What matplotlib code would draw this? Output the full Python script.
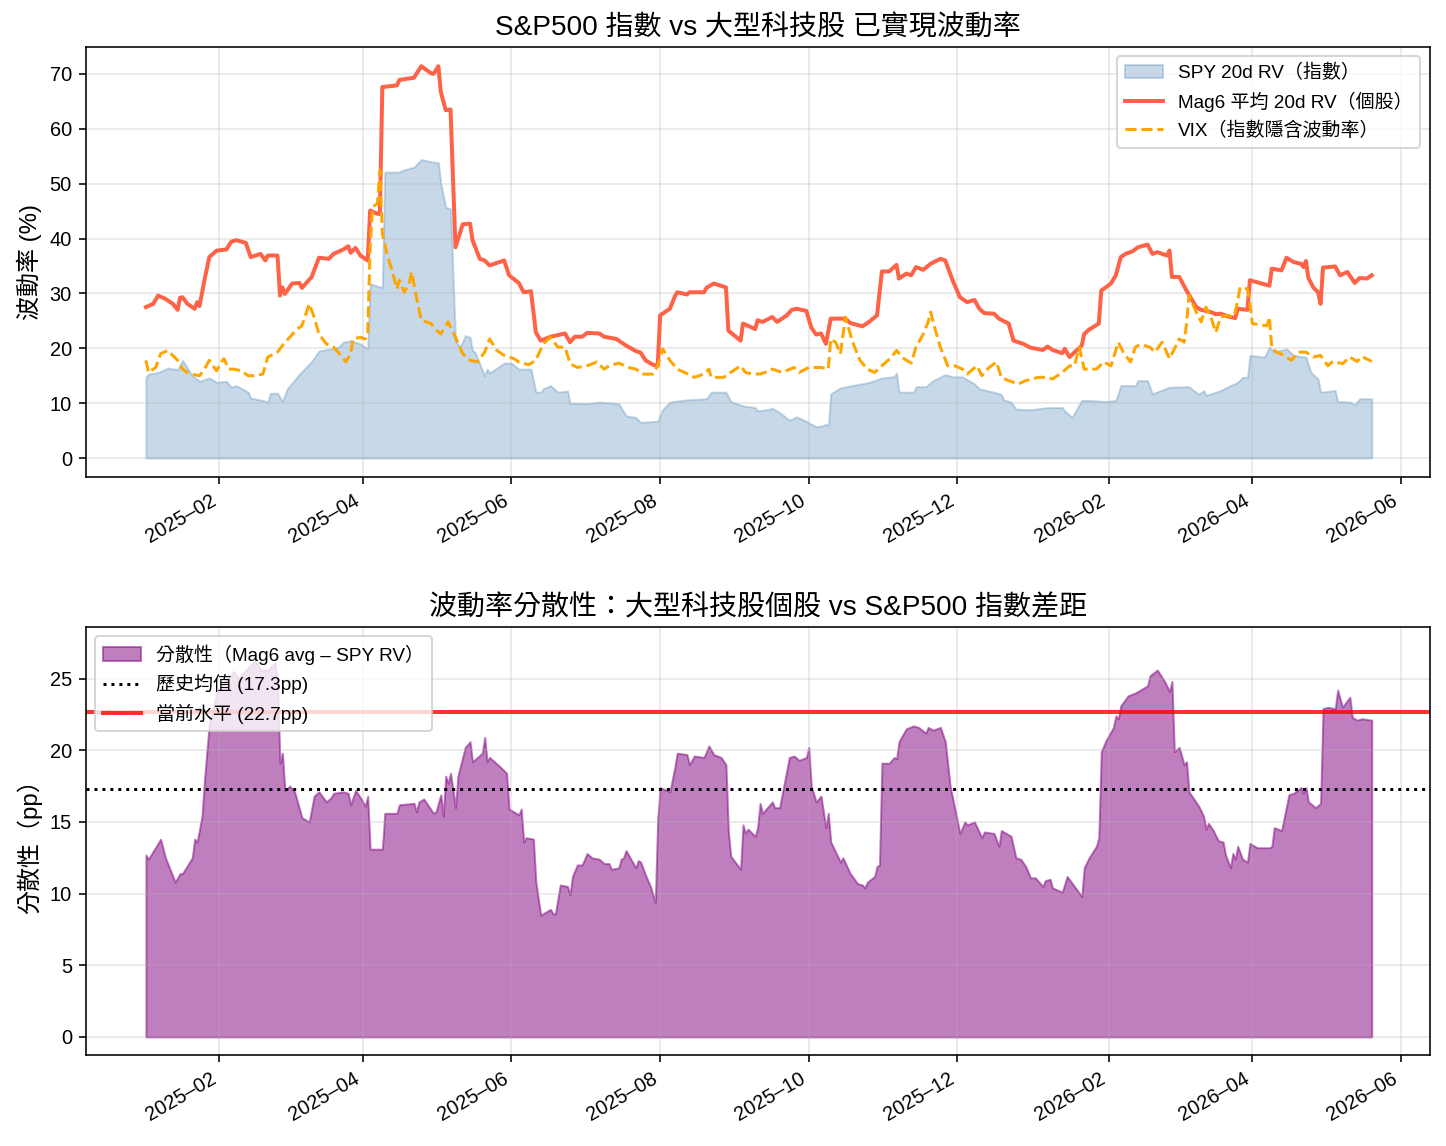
import matplotlib
matplotlib.use("Agg")
import matplotlib.pyplot as plt
import matplotlib.dates as mdates
import pandas as pd

plt.rcParams['font.family'] = ['Liberation Sans', 'Noto Sans CJK TC', 'DejaVu Sans']
plt.rcParams['axes.unicode_minus'] = False

# ---------------- data ----------------
mag6_dates = ["2025-01-02","2025-01-05","2025-01-07","2025-01-10","2025-01-13","2025-01-15","2025-01-16","2025-01-17",
    "2025-01-19","2025-01-22","2025-01-23","2025-01-24","2025-01-26","2025-01-28","2025-01-31","2025-02-04","2025-02-06",
    "2025-02-08","2025-02-12","2025-02-14","2025-02-18","2025-02-20","2025-02-21","2025-02-25","2025-02-26","2025-02-27",
    "2025-02-28","2025-03-03","2025-03-06","2025-03-07","2025-03-11","2025-03-14","2025-03-18","2025-03-20","2025-03-24",
    "2025-03-26","2025-03-27","2025-03-29","2025-03-31","2025-04-03","2025-04-04","2025-04-07","2025-04-08","2025-04-09",
    "2025-04-15","2025-04-16","2025-04-22","2025-04-24","2025-04-25","2025-04-29","2025-04-30","2025-05-02","2025-05-03",
    "2025-05-05","2025-05-07","2025-05-09","2025-05-12","2025-05-15","2025-05-16","2025-05-19","2025-05-21","2025-05-23",
    "2025-05-29","2025-05-31","2025-06-04","2025-06-06","2025-06-09","2025-06-11","2025-06-13","2025-06-17","2025-06-23",
    "2025-06-25","2025-06-27","2025-06-30","2025-07-02","2025-07-07","2025-07-09","2025-07-14","2025-07-18","2025-07-22",
    "2025-07-24","2025-07-26","2025-07-29","2025-07-31","2025-08-01","2025-08-05","2025-08-07","2025-08-08","2025-08-12",
    "2025-08-13","2025-08-19","2025-08-20","2025-08-23","2025-08-28","2025-08-29","2025-09-03","2025-09-04","2025-09-06",
    "2025-09-09","2025-09-10","2025-09-12","2025-09-16","2025-09-18","2025-09-22","2025-09-24","2025-09-26","2025-09-30",
    "2025-10-02","2025-10-04","2025-10-06","2025-10-08","2025-10-10","2025-10-16","2025-10-18","2025-10-23","2025-10-26",
    "2025-10-29","2025-10-31","2025-11-03","2025-11-06","2025-11-07","2025-11-10","2025-11-12","2025-11-14","2025-11-17",
    "2025-11-20","2025-11-24","2025-11-26","2025-11-29","2025-12-02","2025-12-05","2025-12-08","2025-12-10","2025-12-12",
    "2025-12-16","2025-12-18","2025-12-22","2025-12-24","2025-12-28","2025-12-31","2026-01-05","2026-01-07","2026-01-09",
    "2026-01-13","2026-01-14","2026-01-16","2026-01-21","2026-01-22","2026-01-24","2026-01-28","2026-01-29","2026-02-02",
    "2026-02-04","2026-02-06","2026-02-08","2026-02-11","2026-02-13","2026-02-17","2026-02-19","2026-02-21","2026-02-25",
    "2026-02-26","2026-02-27","2026-03-02","2026-03-05","2026-03-09","2026-03-11","2026-03-15","2026-03-17","2026-03-19",
    "2026-03-22","2026-03-25","2026-03-26","2026-03-30","2026-03-31","2026-04-08","2026-04-09","2026-04-13","2026-04-15",
    "2026-04-18","2026-04-21","2026-04-22","2026-04-23","2026-04-24","2026-04-26","2026-04-28","2026-04-29","2026-04-30",
    "2026-05-05","2026-05-07","2026-05-10","2026-05-13","2026-05-15","2026-05-18","2026-05-20"]
mag6_vals = [27.5,28.1,29.6,29.0,28.1,27.0,29.2,29.3,
    28.1,27.2,28.4,27.7,32.4,36.6,37.8,38.0,39.4,
    39.7,39.2,36.6,37.2,36.0,36.9,36.9,29.6,31.1,
    29.9,31.8,31.9,31.0,33.0,36.5,36.3,37.2,38.0,
    38.6,37.4,38.3,36.9,36.0,45.1,44.5,44.5,67.6,
    67.9,68.9,69.3,70.7,71.4,70.1,70.0,71.4,66.7,
    63.4,63.5,38.4,42.6,42.7,39.7,36.3,36.0,35.1,
    36.0,33.3,31.9,30.2,30.4,22.9,21.4,22.1,22.7,
    21.1,22.1,22.1,22.8,22.7,22.1,21.7,20.5,19.5,
    19.2,17.8,17.0,16.8,26.0,27.2,29.4,30.2,29.8,
    30.2,30.2,31.0,31.8,31.1,23.2,21.4,24.5,24.1,
    23.5,25.1,24.8,25.7,24.8,26.0,27.0,27.2,26.8,
    23.8,22.5,22.7,20.8,25.4,25.4,24.6,24.0,24.9,
    26.0,34.0,34.0,35.2,32.7,33.6,33.3,34.8,34.3,
    35.4,36.3,36.0,32.4,29.3,28.4,28.8,27.2,26.4,
    26.3,25.4,24.5,21.4,20.8,20.1,19.7,20.3,19.7,
    19.1,19.9,18.4,20.5,22.6,23.4,24.5,30.5,31.8,
    33.3,36.6,37.2,37.7,38.4,38.9,37.2,37.5,36.9,
    37.8,33.0,33.0,30.5,27.5,27.0,26.6,26.2,26.3,
    25.8,25.5,27.2,27.0,32.4,31.4,34.5,34.2,36.5,
    35.7,35.4,34.8,35.9,32.8,31.1,30.2,28.1,34.7,
    34.9,33.3,33.9,31.9,32.8,32.7,33.3]

spy_dates = ["2025-01-02","2025-01-03","2025-01-07","2025-01-11","2025-01-15","2025-01-17","2025-01-21","2025-01-24",
    "2025-01-28","2025-01-31","2025-02-04","2025-02-06","2025-02-08","2025-02-13","2025-02-14","2025-02-18","2025-02-21",
    "2025-02-22","2025-02-25","2025-02-27","2025-03-01","2025-03-06","2025-03-11","2025-03-14","2025-03-19","2025-03-22",
    "2025-03-24","2025-03-27","2025-03-31","2025-04-03","2025-04-04","2025-04-07","2025-04-09","2025-04-10","2025-04-16",
    "2025-04-17","2025-04-22","2025-04-25","2025-04-29","2025-05-02","2025-05-03","2025-05-05","2025-05-07","2025-05-09",
    "2025-05-11","2025-05-13","2025-05-15","2025-05-16","2025-05-17","2025-05-21","2025-05-22","2025-05-23","2025-05-29",
    "2025-06-01","2025-06-04","2025-06-09","2025-06-11","2025-06-13","2025-06-14","2025-06-17","2025-06-20","2025-06-24",
    "2025-06-25","2025-07-02","2025-07-07","2025-07-15","2025-07-18","2025-07-22","2025-07-24","2025-07-31","2025-08-02",
    "2025-08-05","2025-08-12","2025-08-20","2025-08-22","2025-08-28","2025-08-30","2025-09-04","2025-09-09","2025-09-10",
    "2025-09-15","2025-09-16","2025-09-19","2025-09-23","2025-09-26","2025-09-29","2025-10-04","2025-10-07","2025-10-08",
    "2025-10-09","2025-10-10","2025-10-14","2025-10-21","2025-10-26","2025-10-31","2025-11-05","2025-11-06","2025-11-07",
    "2025-11-13","2025-11-14","2025-11-18","2025-11-21","2025-11-26","2025-11-29","2025-12-03","2025-12-08","2025-12-10",
    "2025-12-16","2025-12-19","2025-12-20","2025-12-23","2025-12-25","2025-12-31","2026-01-07","2026-01-13","2026-01-14",
    "2026-01-17","2026-01-21","2026-01-24","2026-01-31","2026-02-04","2026-02-06","2026-02-12","2026-02-13","2026-02-17",
    "2026-02-19","2026-02-26","2026-03-06","2026-03-10","2026-03-12","2026-03-13","2026-03-19","2026-03-23","2026-03-26",
    "2026-03-28","2026-03-30","2026-03-31","2026-04-06","2026-04-08","2026-04-10","2026-04-15","2026-04-18","2026-04-23",
    "2026-04-25","2026-04-28","2026-04-29","2026-05-05","2026-05-06","2026-05-11","2026-05-13","2026-05-15","2026-05-20"]
spy_vals = [14.7,15.3,15.6,16.4,16.1,17.8,15.0,14.0,
    14.6,13.8,14.0,12.9,13.2,12.0,10.9,10.6,10.2,
    11.8,11.8,10.3,12.6,15.3,17.6,19.5,19.9,20.2,
    21.1,21.4,20.8,19.9,31.8,31.3,31.1,52.1,52.1,
    52.4,53.0,54.4,54.0,53.8,50.0,45.7,45.4,21.4,
    20.2,22.3,22.0,19.6,19.3,15.0,16.2,15.5,17.3,
    17.3,16.2,16.2,12.0,12.0,12.6,13.2,12.0,12.2,
    10.0,9.9,10.2,9.9,7.7,7.4,6.5,6.7,8.8,
    10.2,10.6,10.8,12.0,12.0,10.3,9.5,9.2,8.6,
    8.9,9.1,8.3,6.9,7.5,6.9,5.7,5.9,6.2,
    5.9,11.7,12.8,13.4,13.8,14.6,14.8,15.5,12.0,
    12.0,13.0,13.0,14.1,15.2,14.8,14.8,13.5,12.6,
    12.0,11.6,10.6,10.2,8.9,8.8,9.2,9.2,8.6,
    7.4,10.5,10.5,10.3,10.5,13.2,13.2,14.1,14.1,
    11.7,12.9,13.0,11.6,12.3,11.4,12.3,13.2,13.8,
    14.7,14.7,18.7,18.4,20.2,19.3,19.9,18.7,18.4,
    15.6,14.4,12.0,12.3,10.3,10.2,9.7,10.8,10.8]

vix_dates = ["2025-01-02","2025-01-03","2025-01-06","2025-01-08","2025-01-11","2025-01-13","2025-01-15","2025-01-17",
    "2025-01-20","2025-01-24","2025-01-26","2025-01-28","2025-01-30","2025-01-31","2025-02-02","2025-02-03","2025-02-05",
    "2025-02-07","2025-02-10","2025-02-13","2025-02-16","2025-02-19","2025-02-21","2025-02-25","2025-02-27","2025-03-02",
    "2025-03-05","2025-03-07","2025-03-08","2025-03-10","2025-03-12","2025-03-14","2025-03-17","2025-03-20","2025-03-23",
    "2025-03-25","2025-03-27","2025-03-28","2025-03-31","2025-04-02","2025-04-03","2025-04-04","2025-04-05","2025-04-07",
    "2025-04-08","2025-04-09","2025-04-10","2025-04-11","2025-04-13","2025-04-15","2025-04-16","2025-04-18","2025-04-20",
    "2025-04-21","2025-04-23","2025-04-25","2025-04-29","2025-04-30","2025-05-03","2025-05-06","2025-05-09","2025-05-12",
    "2025-05-15","2025-05-18","2025-05-21","2025-05-23","2025-05-26","2025-05-29","2025-06-02","2025-06-04","2025-06-08",
    "2025-06-11","2025-06-14","2025-06-17","2025-06-20","2025-06-23","2025-06-25","2025-06-28","2025-07-02","2025-07-06",
    "2025-07-09","2025-07-11","2025-07-15","2025-07-19","2025-07-22","2025-07-25","2025-07-29","2025-07-31","2025-08-02",
    "2025-08-05","2025-08-08","2025-08-11","2025-08-15","2025-08-19","2025-08-21","2025-08-22","2025-08-27","2025-08-31",
    "2025-09-03","2025-09-05","2025-09-08","2025-09-11","2025-09-15","2025-09-16","2025-09-20","2025-09-25","2025-09-27",
    "2025-10-01","2025-10-06","2025-10-09","2025-10-10","2025-10-12","2025-10-14","2025-10-16","2025-10-19","2025-10-22",
    "2025-10-25","2025-10-28","2025-11-01","2025-11-04","2025-11-06","2025-11-09","2025-11-12","2025-11-14","2025-11-17",
    "2025-11-19","2025-11-20","2025-11-22","2025-11-24","2025-11-27","2025-11-30","2025-12-03","2025-12-05","2025-12-09",
    "2025-12-11","2025-12-14","2025-12-17","2025-12-19","2025-12-22","2025-12-26","2025-12-29","2026-01-03","2026-01-07",
    "2026-01-09","2026-01-13","2026-01-16","2026-01-18","2026-01-20","2026-01-22","2026-01-27","2026-01-30","2026-02-02",
    "2026-02-05","2026-02-07","2026-02-10","2026-02-12","2026-02-14","2026-02-18","2026-02-20","2026-02-23","2026-02-26",
    "2026-02-28","2026-03-02","2026-03-04","2026-03-05","2026-03-06","2026-03-09","2026-03-11","2026-03-13","2026-03-15",
    "2026-03-17","2026-03-19","2026-03-22","2026-03-24","2026-03-25","2026-03-27","2026-03-30","2026-03-31","2026-04-01",
    "2026-04-07","2026-04-08","2026-04-09","2026-04-11","2026-04-14","2026-04-17","2026-04-20","2026-04-23","2026-04-26",
    "2026-04-29","2026-05-02","2026-05-04","2026-05-08","2026-05-11","2026-05-14","2026-05-16","2026-05-20"]
vix_vals = [17.8,15.6,16.5,19.0,19.6,18.7,17.8,16.2,
    15.3,15.0,16.2,17.8,16.5,15.9,17.5,18.1,16.2,
    16.2,15.9,15.0,15.0,15.3,18.4,19.3,20.5,22.0,
    23.5,24.1,25.4,28.1,25.7,22.6,20.8,20.2,18.7,
    17.5,19.0,21.7,22.0,21.7,22.6,38.4,45.7,46.4,
    52.4,40.9,39.1,36.9,34.2,30.8,32.4,30.2,31.8,
    33.9,29.3,25.1,24.5,23.8,22.6,24.8,22.0,19.0,
    17.8,17.5,19.3,21.7,19.6,18.7,18.1,17.5,17.0,
    17.8,20.8,22.0,20.2,20.2,17.2,16.5,16.8,17.5,
    16.2,16.8,17.3,16.5,16.2,15.3,15.3,16.8,19.9,
    17.8,16.2,15.6,14.7,15.3,16.2,14.7,14.7,15.9,
    16.8,15.6,15.3,15.3,15.9,16.2,15.6,16.5,15.6,
    16.5,16.5,16.2,21.7,21.1,19.0,25.7,21.1,17.8,
    16.2,15.6,17.2,18.4,19.6,18.1,17.3,20.2,22.6,
    24.8,26.6,23.2,20.2,16.8,16.8,16.2,15.3,16.8,
    15.0,16.5,17.5,14.7,14.1,13.5,14.1,14.7,14.7,
    14.4,15.6,16.8,16.8,20.2,16.2,16.2,17.5,16.8,
    21.1,19.3,17.5,20.2,20.7,20.2,19.3,21.1,18.1,
    19.9,21.7,21.1,24.5,29.6,26.6,24.8,27.5,25.7,
    22.9,25.7,26.0,25.7,26.6,31.1,30.8,28.1,24.5,
    24.1,25.7,19.9,19.3,18.7,17.8,19.3,19.3,18.4,
    18.7,16.8,17.6,17.2,18.4,17.6,18.5,17.6]

disp_dates = ["2025-01-02","2025-01-03","2025-01-08","2025-01-10","2025-01-14","2025-01-16","2025-01-17","2025-01-21",
    "2025-01-22","2025-01-23","2025-01-25","2025-01-26","2025-01-28","2025-01-31","2025-02-03","2025-02-07","2025-02-09",
    "2025-02-12","2025-02-16","2025-02-18","2025-02-21","2025-02-24","2025-02-25","2025-02-26","2025-02-27","2025-02-28",
    "2025-03-02","2025-03-04","2025-03-07","2025-03-10","2025-03-12","2025-03-14","2025-03-17","2025-03-19","2025-03-20",
    "2025-03-24","2025-03-26","2025-03-27","2025-03-29","2025-03-31","2025-04-02","2025-04-03","2025-04-04","2025-04-09",
    "2025-04-10","2025-04-15","2025-04-16","2025-04-22","2025-04-23","2025-04-24","2025-04-26","2025-04-30","2025-05-01",
    "2025-05-03","2025-05-04","2025-05-05","2025-05-06","2025-05-07","2025-05-09","2025-05-10","2025-05-13","2025-05-15",
    "2025-05-16","2025-05-20","2025-05-21","2025-05-22","2025-05-23","2025-05-27","2025-05-30","2025-05-31","2025-06-04",
    "2025-06-05","2025-06-06","2025-06-07","2025-06-10","2025-06-11","2025-06-13","2025-06-17","2025-06-18","2025-06-19",
    "2025-06-21","2025-06-24","2025-06-25","2025-06-26","2025-06-28","2025-06-30","2025-07-02","2025-07-04","2025-07-07",
    "2025-07-09","2025-07-11","2025-07-12","2025-07-15","2025-07-16","2025-07-17","2025-07-18","2025-07-19","2025-07-22",
    "2025-07-23","2025-07-24","2025-07-26","2025-07-28","2025-07-30","2025-07-31","2025-08-01","2025-08-05","2025-08-07",
    "2025-08-08","2025-08-12","2025-08-13","2025-08-15","2025-08-19","2025-08-21","2025-08-23","2025-08-26","2025-08-28",
    "2025-08-29","2025-08-30","2025-09-03","2025-09-04","2025-09-05","2025-09-06","2025-09-09","2025-09-10","2025-09-11",
    "2025-09-12","2025-09-15","2025-09-16","2025-09-17","2025-09-19","2025-09-23","2025-09-25","2025-09-27","2025-09-30",
    "2025-10-01","2025-10-02","2025-10-04","2025-10-06","2025-10-08","2025-10-09","2025-10-10","2025-10-14","2025-10-15",
    "2025-10-18","2025-10-21","2025-10-23","2025-10-24","2025-10-25","2025-10-28","2025-10-29","2025-10-30","2025-10-31",
    "2025-11-03","2025-11-05","2025-11-06","2025-11-07","2025-11-10","2025-11-13","2025-11-15","2025-11-18","2025-11-19",
    "2025-11-21","2025-11-24","2025-11-26","2025-11-28","2025-12-02","2025-12-04","2025-12-05","2025-12-08","2025-12-11",
    "2025-12-12","2025-12-16","2025-12-18","2025-12-19","2025-12-23","2025-12-25","2025-12-27","2025-12-29","2025-12-31",
    "2026-01-02","2026-01-05","2026-01-06","2026-01-08","2026-01-09","2026-01-13","2026-01-15","2026-01-18","2026-01-21",
    "2026-01-22","2026-01-24","2026-01-27","2026-01-28","2026-01-29","2026-01-31","2026-02-03","2026-02-04","2026-02-05",
    "2026-02-06","2026-02-09","2026-02-12","2026-02-14","2026-02-17","2026-02-18","2026-02-21","2026-02-24","2026-02-26",
    "2026-02-27","2026-02-28","2026-03-02","2026-03-04","2026-03-05","2026-03-06","2026-03-10","2026-03-12","2026-03-13",
    "2026-03-14","2026-03-16","2026-03-18","2026-03-20","2026-03-21","2026-03-23","2026-03-24","2026-03-25","2026-03-26",
    "2026-03-28","2026-03-30","2026-03-31","2026-04-03","2026-04-08","2026-04-09","2026-04-10","2026-04-13","2026-04-16",
    "2026-04-18","2026-04-21","2026-04-22","2026-04-23","2026-04-24","2026-04-27","2026-04-29","2026-04-30","2026-05-02",
    "2026-05-05","2026-05-06","2026-05-08","2026-05-11","2026-05-12","2026-05-14","2026-05-16","2026-05-20"]
disp_vals = [12.7,12.4,13.8,12.5,10.8,11.4,11.4,12.5,
    13.8,13.6,15.4,17.9,21.9,24.0,24.7,25.5,25.0,
    25.6,26.3,25.6,25.6,26.1,24.7,19.1,19.8,17.2,
    17.5,17.1,15.3,15.0,16.8,17.1,16.4,16.7,17.0,
    17.1,17.0,16.2,17.2,16.7,16.1,16.8,13.1,13.1,
    15.6,15.6,16.2,16.3,15.7,16.4,16.6,15.6,15.7,
    16.9,15.4,18.2,17.7,18.4,16.0,18.2,20.2,20.6,
    19.2,19.8,20.9,19.2,19.5,18.9,18.4,15.9,15.5,
    15.9,13.6,13.9,13.8,10.8,8.5,8.9,8.6,8.6,
    10.6,10.5,9.9,11.2,12.0,12.0,12.8,12.5,12.4,
    12.1,12.1,11.7,11.8,12.4,12.5,13.0,12.7,11.8,
    12.3,12.2,11.3,10.5,9.4,15.2,17.4,17.1,18.8,
    19.8,19.7,19.0,19.6,19.5,20.3,19.7,19.5,19.0,
    14.3,12.6,11.7,14.8,14.2,14.5,14.0,14.6,16.3,
    15.6,16.2,16.4,16.0,16.0,19.5,19.6,19.3,19.5,
    20.2,17.5,16.4,16.8,14.6,15.6,13.6,12.2,12.5,
    11.4,10.7,10.6,10.4,10.8,11.2,11.9,12.0,19.1,
    19.1,19.5,19.4,20.6,21.5,21.7,21.6,21.2,21.6,
    21.4,21.6,20.6,17.5,14.2,15.0,14.8,15.0,13.9,
    14.3,14.2,13.3,14.4,14.0,12.5,12.4,11.9,11.1,
    11.1,10.5,10.9,11.0,10.4,10.1,11.2,10.5,9.8,
    11.8,12.5,13.3,13.9,19.9,20.7,21.6,22.4,22.2,
    23.1,23.8,24.0,24.2,24.5,25.2,25.6,24.8,24.1,
    24.8,19.9,20.2,19.0,19.2,17.1,16.1,15.4,14.5,
    14.9,14.4,13.7,13.6,12.7,11.8,12.8,12.4,13.3,
    12.4,12.2,13.5,13.2,13.2,13.3,14.6,14.4,16.9,
    17.0,17.4,17.0,17.4,16.4,16.0,16.3,22.9,23.0,
    22.9,24.2,23.0,23.7,22.3,22.1,22.2,22.1]

hist_mean = 17.3
current_level = 22.7

labels_top = ["SPY 20d RV（指數）", "Mag6 平均 20d RV（個股）", "VIX（指數隱含波動率）"]
labels_bottom = ["分散性（Mag6 avg – SPY RV）", f"歷史均值 ({hist_mean}pp)", f"當前水平 ({current_level}pp)"]

# ---------------- figure ----------------
DPI = 144
fig = plt.figure(figsize=(1446 / DPI, 1146 / DPI), dpi=DPI)
ax1 = fig.add_axes([0.05947, 0.58377, 0.92946, 0.37522])
ax2 = fig.add_axes([0.05947, 0.07941, 0.92946, 0.37347])

mag6_d = pd.to_datetime(mag6_dates)
spy_d = pd.to_datetime(spy_dates)
vix_d = pd.to_datetime(vix_dates)
disp_d = pd.to_datetime(disp_dates)

ax1.fill_between(spy_d, 0, spy_vals, color='steelblue', alpha=0.3, label=labels_top[0])
ax1.plot(mag6_d, mag6_vals, color='tomato', lw=2, label=labels_top[1])
ax1.plot(vix_d, vix_vals, color='orange', lw=1.5, ls='--', label=labels_top[2])
ax1.set_title("S&P500 指數 vs 大型科技股 已實現波動率", fontsize=14)
ax1.set_ylabel("波動率 (%)", fontsize=12)
ax1.legend(loc='upper right', fontsize=9.5)
ax1.grid(True, alpha=0.3)
ax1.set_ylim(-3.46, 74.9)

ax2.fill_between(disp_d, 0, disp_vals, color='purple', alpha=0.5, label=labels_bottom[0])
ax2.axhline(hist_mean, color='black', ls=':', lw=1.5, label=labels_bottom[1])
ax2.axhline(current_level, color='red', lw=2, alpha=0.8, label=labels_bottom[2])
ax2.set_title("波動率分散性：大型科技股個股 vs S&P500 指數差距", fontsize=14)
ax2.set_ylabel("分散性（pp）", fontsize=12)
ax2.legend(loc='upper left', fontsize=9.5)
ax2.grid(True, alpha=0.3)
ax2.set_ylim(-1.26, 28.6)

x0 = pd.Timestamp("2025-02-01") + pd.Timedelta(days=-54.6)
x1 = pd.Timestamp("2025-02-01") + pd.Timedelta(days=496.9)
for ax in (ax1, ax2):
    ax.set_xlim(x0, x1)
    ax.xaxis.set_major_locator(mdates.MonthLocator(bymonth=[2, 4, 6, 8, 10, 12]))
    ax.xaxis.set_major_formatter(mdates.DateFormatter('%Y–%m'))
    ax.tick_params(labelsize=10)
    for lab in ax.get_xticklabels():
        lab.set_rotation(30)
        lab.set_ha('right')

fig.savefig("out.png", dpi=DPI)
